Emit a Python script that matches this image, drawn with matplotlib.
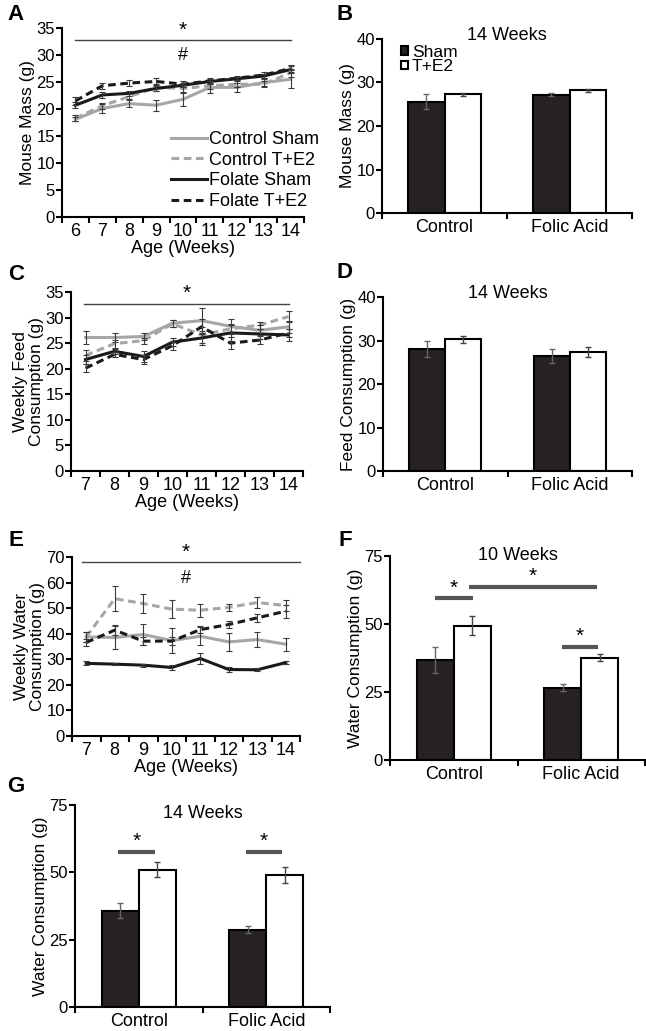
import numpy as np
import matplotlib
matplotlib.use("Agg")
from matplotlib import pyplot as plt

plt.rcParams['font.family'] = ['Liberation Sans', 'DejaVu Sans']

W, H = 646, 1031

# ---- data ----
weeks_a = [6, 7, 8, 9, 10, 11, 12, 13, 14]
a_ctrl_sham = [18.1, 20.1, 21.0, 20.7, 21.8, 24.0, 24.0, 24.9, 25.5]
a_ctrl_sham_err = [0.4, 0.8, 0.6, 1.0, 1.2, 1.1, 0.8, 0.6, 1.7]
a_ctrl_te2 = [18.3, 20.6, 22.3, 24.0, 23.8, 24.3, 24.6, 24.6, 26.7]
a_ctrl_te2_err = [0.5, 0.6, 0.5, 0.6, 0.6, 0.6, 0.6, 0.6, 0.8]
a_fol_sham = [20.7, 22.6, 22.9, 23.8, 24.4, 25.1, 25.6, 26.1, 27.3]
a_fol_sham_err = [0.6, 0.5, 0.5, 0.4, 0.4, 0.4, 0.3, 0.4, 0.6]
a_fol_te2 = [21.5, 24.3, 24.8, 25.1, 24.6, 25.2, 25.7, 26.3, 27.5]
a_fol_te2_err = [0.7, 0.6, 0.5, 0.6, 0.5, 0.5, 0.4, 0.5, 0.7]

weeks_c = [7, 8, 9, 10, 11, 12, 13, 14]
c_ctrl_sham = [26.1, 26.1, 26.3, 28.9, 29.4, 28.3, 27.5, 28.2]
c_ctrl_sham_err = [1.2, 0.8, 0.6, 0.7, 2.5, 1.4, 1.0, 1.2]
c_ctrl_te2 = [22.6, 24.9, 25.5, 28.8, 26.6, 27.8, 28.5, 30.2]
c_ctrl_te2_err = [1.0, 0.8, 0.6, 0.7, 1.5, 1.0, 0.7, 1.0]
c_fol_sham = [21.8, 23.4, 22.4, 25.2, 26.0, 27.0, 26.8, 26.6]
c_fol_sham_err = [0.8, 0.5, 1.0, 0.8, 1.3, 1.5, 1.0, 1.1]
c_fol_te2 = [20.1, 22.8, 21.8, 24.5, 28.2, 25.0, 25.6, 27.0]
c_fol_te2_err = [0.8, 0.5, 0.8, 0.8, 1.5, 1.2, 0.8, 0.8]

weeks_e = [7, 8, 9, 10, 11, 12, 13, 14]
e_ctrl_sham = [38.8, 38.5, 39.7, 37.3, 39.0, 36.8, 37.7, 35.9]
e_ctrl_sham_err = [2.0, 4.5, 4.0, 5.0, 3.5, 3.5, 3.0, 2.5]
e_ctrl_te2 = [38.8, 53.7, 51.8, 49.6, 49.2, 50.3, 52.2, 51.0]
e_ctrl_te2_err = [2.0, 5.0, 3.8, 3.5, 2.5, 1.5, 2.0, 2.0]
e_fol_sham = [28.4, 28.1, 27.7, 26.8, 30.3, 26.0, 25.9, 28.7]
e_fol_sham_err = [0.8, 0.5, 0.6, 1.0, 2.0, 0.8, 0.6, 0.6]
e_fol_te2 = [36.6, 41.4, 37.1, 37.1, 41.6, 43.6, 46.2, 48.8]
e_fol_te2_err = [1.5, 2.0, 1.5, 1.5, 1.5, 1.5, 1.5, 2.5]

series_names = ['Control Sham', 'Control T+E2', 'Folate Sham', 'Folate T+E2']

groups = ['Control', 'Folic Acid']
b_sham, b_sham_err = [25.6, 27.2], [1.7, 0.3]
b_te2, b_te2_err = [27.3, 28.2], [0.3, 0.4]
d_sham, d_sham_err = [28.0, 26.5], [1.9, 1.6]
d_te2, d_te2_err = [30.3, 27.4], [0.8, 1.1]
f_sham, f_sham_err = [36.8, 26.6], [4.9, 1.3]
f_te2, f_te2_err = [49.4, 37.6], [3.6, 1.2]
g_sham, g_sham_err = [35.8, 28.6], [2.7, 1.3]
g_te2, g_te2_err = [50.9, 49.0], [2.8, 2.9]

# significance brackets: (x0, x1, y)
f_sig = [(-0.15, 0.15, 59.4), (0.12, 1.12, 63.7), (0.85, 1.13, 41.4)]
g_sig = [(-0.16, 0.13, 57.7), (0.84, 1.12, 57.7)]

GRAY = '#a6a6a6'
BLACK = '#1a1a1a'
DARK = '#262223'

fig = plt.figure(figsize=(W / 100, H / 100), dpi=100)


def add_ax(l, t, r, b):
    ax = fig.add_axes([l / W, 1 - b / H, (r - l) / W, (b - t) / H])
    for s in ['top', 'right']:
        ax.spines[s].set_visible(False)
    for s in ['left', 'bottom']:
        ax.spines[s].set_linewidth(1.5)
    ax.tick_params(axis='y', labelsize=12, width=1.5, length=4, pad=1)
    ax.tick_params(axis='x', which='major', width=1.5, length=4, labelbottom=False)
    ax.tick_params(axis='x', which='minor', length=0, labelsize=13, pad=4)
    return ax


def line_panel(ax, weeks, data, ylim, ystep, ylabel):
    styles = [(GRAY, '-'), (GRAY, (0, (2.5, 1.5))), (BLACK, '-'), (BLACK, (0, (2.5, 1.5)))]
    handles = []
    for (vals, errs), (c, ls), name in zip(data, styles, series_names):
        ax.errorbar(weeks, vals, yerr=errs, ecolor='#3a3a3a', elinewidth=0.8,
                    capsize=2, capthick=0.8, fmt='none', zorder=3)
        h, = ax.plot(weeks, vals, color=c, ls=ls, lw=2.2, zorder=2, label=name)
        handles.append(h)
    ax.set_xlim(weeks[0] - 0.5, weeks[-1] + 0.5)
    ax.set_xticks(np.arange(weeks[0] - 0.5, weeks[-1] + 1, 1))
    ax.set_xticks(weeks, minor=True)
    ax.set_xticklabels([str(w) for w in weeks], minor=True)
    ax.set_ylim(*ylim)
    ax.set_yticks(np.arange(ylim[0], ylim[1] + 0.1, ystep))
    ax.set_xlabel('Age (Weeks)', fontsize=13, labelpad=0)
    ax.set_ylabel(ylabel, fontsize=12.5, labelpad=1, linespacing=1.1)
    return handles


def bar_panel(ax, sham, sham_err, te2, te2_err, ylim, yticks, ylabel, title, title_y=1.0):
    x = np.arange(len(groups))
    w = 0.29
    b1 = ax.bar(x - w / 2, sham, w, color=DARK, edgecolor='black', lw=1.5)
    b2 = ax.bar(x + w / 2, te2, w, color='white', edgecolor='black', lw=1.5)
    ax.errorbar(x - w / 2, sham, yerr=sham_err, fmt='none', ecolor='#666666',
                elinewidth=1, capsize=2.5, capthick=1)
    ax.errorbar(x + w / 2, te2, yerr=te2_err, fmt='none', ecolor='#444444',
                elinewidth=1, capsize=2.5, capthick=1)
    ax.set_xlim(-0.5, len(groups) - 0.5)
    ax.set_xticks(np.arange(-0.5, len(groups), 1))
    ax.set_xticks(x, minor=True)
    ax.set_xticklabels(groups, minor=True)
    ax.set_ylim(*ylim)
    ax.set_yticks(yticks)
    ax.set_ylabel(ylabel, fontsize=12.5, labelpad=1)
    ax.text(0.5, title_y, title, transform=ax.transAxes, ha='center', va='center',
            fontsize=13)
    return b1, b2


def sig_bars(ax, sig):
    for x0, x1, y in sig:
        ax.plot([x0, x1], [y, y], color='#555555', lw=3, solid_capstyle='butt', clip_on=False)
        ax.text((x0 + x1) / 2, y + 0.4, '*', ha='center', va='bottom', fontsize=15)


# ---- A ----
axA = add_ax(62, 28, 304, 217)
hA = line_panel(axA, weeks_a,
                [(a_ctrl_sham, a_ctrl_sham_err), (a_ctrl_te2, a_ctrl_te2_err),
                 (a_fol_sham, a_fol_sham_err), (a_fol_te2, a_fol_te2_err)],
                (0, 35), 5, 'Mouse Mass (g)')
axA.plot([6, 14], [32.7, 32.7], color='#444444', lw=1, clip_on=False)
axA.text(10, 32.9, '*', ha='center', va='bottom', fontsize=15)
axA.text(10, 30.0, '#', ha='center', va='center', fontsize=13)
axA.legend(handles=hA, loc='upper left', bbox_to_anchor=(0.45, 0.455), frameon=False,
           fontsize=13, handlelength=2.0, handletextpad=0.1, labelspacing=0.2,
           borderpad=0, borderaxespad=0)

# ---- B ----
axB = add_ax(382, 39, 632, 213)
bB = bar_panel(axB, b_sham, b_sham_err, b_te2, b_te2_err, (0, 40), [0, 10, 20, 30, 40],
               'Mouse Mass (g)', '14 Weeks', title_y=1.02)
axB.legend(bB, ['Sham', 'T+E2'], loc='upper left', bbox_to_anchor=(0.075, 0.965),
           frameon=False, fontsize=12.5, handlelength=0.4, handleheight=0.4,
           handletextpad=0.25, labelspacing=-0.05, borderpad=0, borderaxespad=0)

# ---- C ----
axC = add_ax(71, 292, 303, 471)
line_panel(axC, weeks_c,
           [(c_ctrl_sham, c_ctrl_sham_err), (c_ctrl_te2, c_ctrl_te2_err),
            (c_fol_sham, c_fol_sham_err), (c_fol_te2, c_fol_te2_err)],
           (0, 35), 5, 'Weekly Feed\nConsumption (g)')
axC.plot([6.95, 14.0], [32.7, 32.7], color='#444444', lw=1, clip_on=False)
axC.text(10.5, 32.9, '*', ha='center', va='bottom', fontsize=15)

# ---- D ----
axD = add_ax(383, 297, 632, 471)
bar_panel(axD, d_sham, d_sham_err, d_te2, d_te2_err, (0, 40), [0, 10, 20, 30, 40],
          'Feed Consumption (g)', '14 Weeks', title_y=1.02)

# ---- E ----
axE = add_ax(72, 557, 300, 736)
line_panel(axE, weeks_e,
           [(e_ctrl_sham, e_ctrl_sham_err), (e_ctrl_te2, e_ctrl_te2_err),
            (e_fol_sham, e_fol_sham_err), (e_fol_te2, e_fol_te2_err)],
           (0, 70), 10, 'Weekly Water\nConsumption (g)')
axE.plot([6.85, 14.5], [68.0, 68.0], color='#444444', lw=1, clip_on=False)
axE.text(10.5, 68.3, '*', ha='center', va='bottom', fontsize=15)
axE.text(10.5, 61.5, '#', ha='center', va='center', fontsize=13)

# ---- F ----
axF = add_ax(390, 556, 645, 760)
bar_panel(axF, f_sham, f_sham_err, f_te2, f_te2_err, (0, 75), [0, 25, 50, 75],
          'Water Consumption (g)', '10 Weeks', title_y=1.0)
sig_bars(axF, f_sig)

# ---- G ----
axG = add_ax(75, 805, 330, 1007)
bar_panel(axG, g_sham, g_sham_err, g_te2, g_te2_err, (0, 75), [0, 25, 50, 75],
          'Water Consumption (g)', '14 Weeks', title_y=0.96)
sig_bars(axG, g_sig)

# panel letters
for letter, (px, py) in zip('ABCDEFG', [(16, 14), (345, 14), (16, 275), (345, 272),
                                       (16, 540), (345, 540), (16, 787)]):
    fig.text(px / W, 1 - py / H, letter, fontsize=16, fontweight='bold',
             ha='center', va='center')

fig.savefig('out.png', dpi=100)
